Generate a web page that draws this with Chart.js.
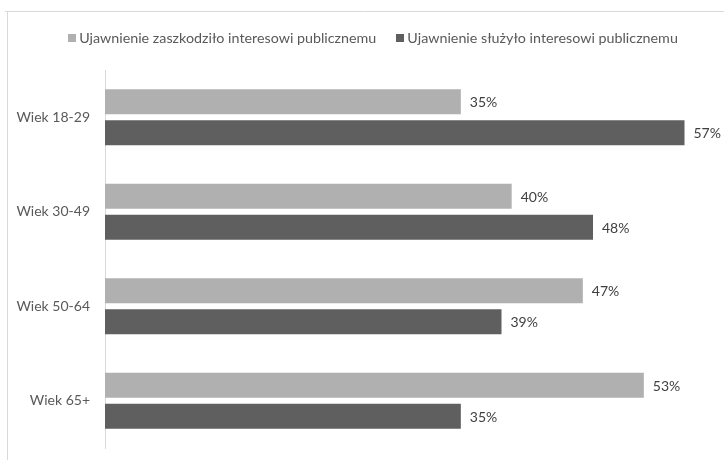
<!DOCTYPE html>
<html>
<head>
<meta charset="utf-8">
<script src="https://cdn.jsdelivr.net/npm/chart.js@4"></script>
<style>
html,body{margin:0;padding:0;background:#fff;}
#wrap{width:724px;height:460px;position:relative;}
</style>
</head>
<body>
<div id="wrap"><canvas id="c" width="724" height="460"></canvas></div>
<script>
const categories = ["Wiek 18-29", "Wiek 30-49", "Wiek 50-64", "Wiek 65+"];
const seriesNames = ["Ujawnienie zaszkodziło interesowi publicznemu", "Ujawnienie służyło interesowi publicznemu"];
const harmed = [35, 40, 47, 53];
const served = [57, 48, 39, 35];
const colors = ["#b0b0b0", "#5f5f5f"];

const FONT = "Lato, 'Open Sans', sans-serif";

const framePlugin = {
  id: 'frame',
  beforeDraw(chart) {
    const ctx = chart.ctx;
    ctx.save();
    ctx.strokeStyle = '#d9d9d9';
    ctx.lineWidth = 1;
    ctx.beginPath();
    ctx.moveTo(5, 11.5); ctx.lineTo(724, 11.5);
    ctx.moveTo(7.5, 11); ctx.lineTo(7.5, 460);
    ctx.stroke();
    ctx.restore();
  }
};

// Legend drawn from dataset labels and colours
const customLegend = {
  id: 'customLegend',
  afterDraw(chart) {
    const ctx = chart.ctx;
    ctx.save();
    ctx.font = "14.3px " + FONT;
    ctx.textBaseline = 'middle';
    ctx.textAlign = 'left';
    const box = 8, gapText = 3, gapItem = 20, cy = 38, centerX = 373;
    const items = chart.data.datasets.map(ds => ({ text: ds.label, color: ds.backgroundColor, w: ctx.measureText(ds.label).width }));
    let total = 0;
    items.forEach((it, i) => { total += box + gapText + it.w + (i ? gapItem : 0); });
    let x = centerX - total / 2;
    items.forEach((it, i) => {
      if (i) x += gapItem;
      ctx.fillStyle = it.color;
      ctx.fillRect(Math.round(x), cy - 4, box, box);
      x += box + gapText;
      ctx.fillStyle = '#595959';
      ctx.fillText(it.text, x, cy);
      x += it.w;
    });
    ctx.restore();
  }
};

const valueLabels = {
  id: 'valueLabels',
  afterDatasetsDraw(chart) {
    const ctx = chart.ctx;
    ctx.save();
    ctx.font = "14px " + FONT;
    ctx.fillStyle = '#404040';
    ctx.textAlign = 'left';
    ctx.textBaseline = 'middle';
    chart.data.datasets.forEach((ds, i) => {
      const meta = chart.getDatasetMeta(i);
      meta.data.forEach((bar, j) => {
        ctx.fillText(ds.data[j] + '%', bar.x + 9, bar.y + 1);
      });
    });
    ctx.restore();
  }
};

new Chart(document.getElementById('c'), {
  type: 'bar',
  data: {
    labels: categories,
    datasets: [
      { label: seriesNames[0], data: harmed, backgroundColor: colors[0], categoryPercentage: 0.656, barPercentage: 0.806 },
      { label: seriesNames[1], data: served, backgroundColor: colors[1], categoryPercentage: 0.656, barPercentage: 0.806 }
    ]
  },
  options: {
    indexAxis: 'y',
    responsive: false,
    animation: false,
    layout: { autoPadding: false, padding: { top: 70, bottom: 12, left: 0, right: 9 } },
    plugins: {
      legend: { display: false },
      tooltip: { enabled: false }
    },
    scales: {
      x: { display: false, min: 0, max: 60 },
      y: {
        afterFit(scale) { scale.width = 105; scale.paddingTop = 0; scale.paddingBottom = 0; },
        grid: { display: false },
        border: { display: true, color: '#d9d9d9', width: 1 },
        ticks: { color: '#595959', padding: 7, font: { family: FONT, size: 14 } }
      }
    }
  },
  plugins: [framePlugin, customLegend, valueLabels]
});
</script>
</body>
</html>
